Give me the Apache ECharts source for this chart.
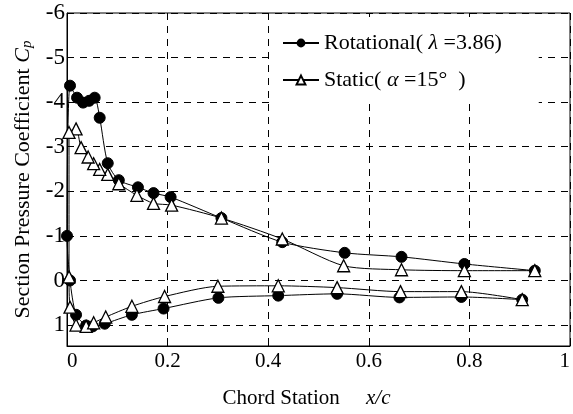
<!DOCTYPE html>
<html>
<head>
<meta charset="utf-8">
<script src="https://cdn.jsdelivr.net/npm/echarts@6/dist/echarts.min.js"></script>
<style>
  html, body { margin: 0; padding: 0; background: #fff; }
  #chart { width: 573px; height: 414px; }
</style>
</head>
<body>
<div id="chart"></div>
<script>
// ============================= data =============================
// rotational (lambda = 3.86): upper surface TE -> LE, then lower surface LE -> TE
const rotX  = [0.93, 0.79, 0.665, 0.552, 0.428, 0.307, 0.206, 0.172, 0.141, 0.103, 0.081, 0.065, 0.055, 0.044, 0.032, 0.02, 0.006,
               0.0, 0.006, 0.018, 0.038, 0.051, 0.075, 0.129, 0.192, 0.301, 0.42, 0.537, 0.661, 0.784, 0.905];
const rotCp = [-0.22, -0.37, -0.53, -0.62, -0.86, -1.40, -1.87, -1.96, -2.09, -2.25, -2.63, -3.65, -4.10, -4.03, -3.99, -4.10, -4.37,
               -1.00, 0.00, 0.77, 1.01, 1.03, 0.97, 0.77, 0.63, 0.39, 0.34, 0.30, 0.38, 0.37, 0.43];

// static (alpha = 15 deg)
const staX  = [0.93, 0.79, 0.665, 0.55, 0.428, 0.307, 0.208, 0.172, 0.139, 0.103, 0.081, 0.065, 0.053, 0.042, 0.028, 0.018, 0.004,
               0.004, 0.006, 0.018, 0.038, 0.053, 0.077, 0.129, 0.194, 0.30, 0.42, 0.537, 0.663, 0.784, 0.905];
const staCp = [-0.22, -0.22, -0.24, -0.33, -0.93, -1.40, -1.69, -1.73, -1.91, -2.17, -2.38, -2.49, -2.62, -2.77, -2.98, -3.40, -3.32,
               -0.08, 0.60, 1.00, 1.03, 0.95, 0.82, 0.58, 0.36, 0.13, 0.12, 0.16, 0.25, 0.25, 0.43];

const xTicks = [0, 0.2, 0.4, 0.6, 0.8, 1];
const yTicks = [-6, -5, -4, -3, -2, -1, 0, 1];

// ============================= option =============================
const FONT = 'Liberation Serif';
const dash = [7, 6];

function pairs(xs, ys) {
    return xs.map((x, i) => [x, ys[i]]);
}

let option = {
    animation: false,
    backgroundColor: '#fff',
    textStyle: { fontFamily: FONT, color: '#000' },
    grid: {
        left: 67, right: 1, top: 13, bottom: 67,
        show: true, borderColor: '#000', borderWidth: 1
    },
    legend: {
        orient: 'vertical',
        left: 272, top: 17,
        padding: [15, 37, 13, 10],
        backgroundColor: '#fff',
        itemGap: 15,
        itemWidth: 36,
        itemHeight: 11,
        textStyle: {
            fontFamily: FONT, fontSize: 22, color: '#000',
            rich: { i: { fontFamily: FONT, fontSize: 22, fontStyle: 'italic', color: '#000' } }
        },
        formatter: name => name === 'Rotational'
            ? 'Rotational( {i|λ} =3.86)'
            : 'Static( {i|α} =15°  )'
    },
    xAxis: {
        type: 'value',
        min: xTicks[0], max: xTicks[xTicks.length - 1], interval: 0.2,
        axisLine: { show: true, onZero: false, lineStyle: { color: '#000', width: 1 } },
        axisTick: { show: true, inside: true, length: 4, lineStyle: { color: '#000' } },
        axisLabel: {
            fontFamily: FONT, fontSize: 21, color: '#000', margin: 5,
            alignMinLabel: 'left', alignMaxLabel: 'right',
            formatter: v => String(+v.toFixed(1))
        },
        splitLine: { show: true, lineStyle: { color: '#000', type: dash, width: 1 } },
        name: 'Chord Station     {i|x/c}',
        nameLocation: 'middle',
        nameGap: 42,
        nameTextStyle: {
            fontFamily: FONT, fontSize: 21, color: '#000',
            padding: [0, 24, 0, 0],
            rich: { i: { fontFamily: FONT, fontSize: 21, fontStyle: 'italic', color: '#000' } }
        }
    },
    yAxis: {
        type: 'value',
        inverse: true,
        min: yTicks[0], max: 1.47, interval: 1,
        axisLine: { show: true, onZero: false, lineStyle: { color: '#000', width: 1 } },
        axisTick: { show: true, inside: true, length: 4, lineStyle: { color: '#000' } },
        axisLabel: {
            fontFamily: FONT, fontSize: 23, color: '#000', margin: 2,
            showMaxLabel: false,
            padding: [7, 0, 0, 0]
        },
        splitLine: { show: true, lineStyle: { color: '#000', type: dash, width: 1 } },
        name: 'Section Pressure Coefficient {i|C}{s|p}',
        nameLocation: 'middle',
        nameRotate: 90,
        nameGap: 31,
        nameTextStyle: {
            fontFamily: FONT, fontSize: 22, color: '#000',
            rich: {
                i: { fontFamily: FONT, fontSize: 22, fontStyle: 'italic', color: '#000' },
                s: { fontFamily: FONT, fontSize: 15, fontStyle: 'italic', color: '#000', verticalAlign: 'bottom', padding: [8, 0, 0, 0] }
            }
        }
    },
    series: [
        {
            name: 'Rotational',
            type: 'line',
            data: pairs(rotX, rotCp),
            smooth: 0.25,
            symbol: 'circle',
            symbolSize: 11,
            lineStyle: { color: '#000', width: 1 },
            itemStyle: { color: '#000', borderColor: '#000' }
        },
        {
            name: 'Static',
            type: 'line',
            data: pairs(staX, staCp),
            smooth: 0.25,
            symbol: 'triangle',
            symbolSize: 12,
            lineStyle: { color: '#000', width: 1 },
            itemStyle: { color: '#fff', borderColor: '#000', borderWidth: 1.3 }
        }
    ]
};

echarts.init(document.getElementById('chart')).setOption(option);
</script>
</body>
</html>
